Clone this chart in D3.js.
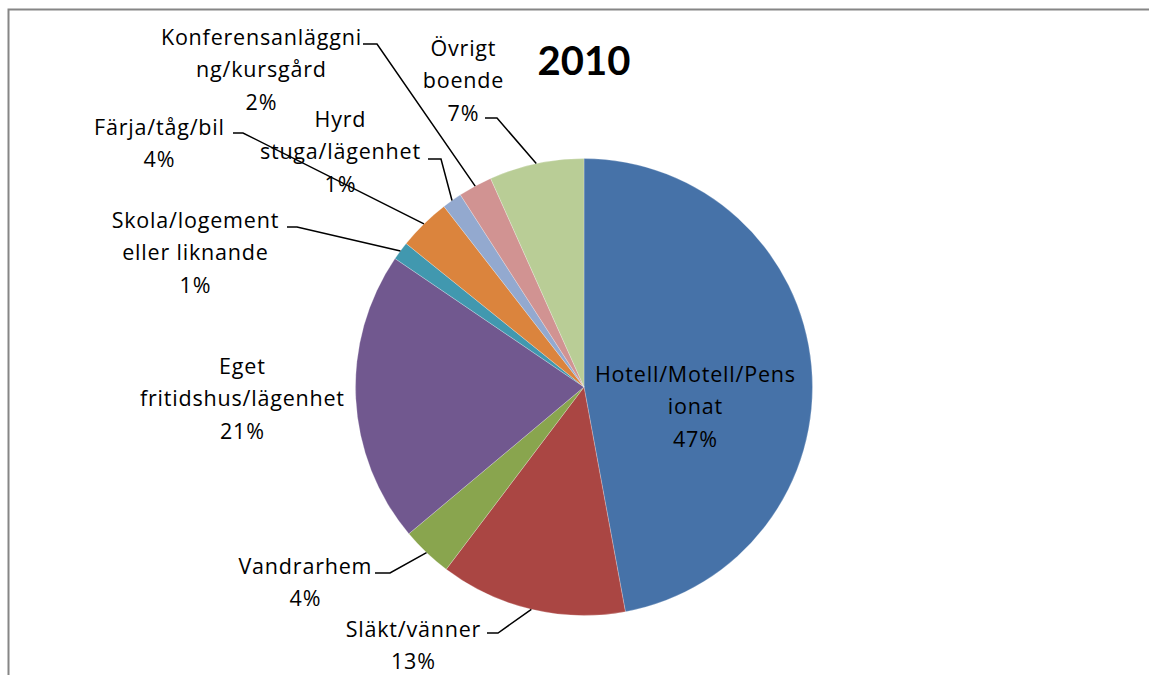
<!DOCTYPE html>
<html>
<head>
<meta charset="utf-8">
<script src="https://cdn.jsdelivr.net/npm/d3@7"></script>
<style>
  body { margin: 0; background: #fff; }
  text { font-family: "Open Sans", Lato, sans-serif; fill: #000; }
</style>
</head>
<body>
<svg id="chart" width="1149" height="675"></svg>
<script>
// data (shares in %)
var categories = ["Hotell/Motell/Pensionat", "Släkt/vänner", "Vandrarhem", "Eget fritidshus/lägenhet",
                  "Skola/logement eller liknande", "Färja/tåg/bil", "Hyrd stuga/lägenhet",
                  "Konferensanläggning/kursgård", "Övrigt boende"];
var values = [47.1, 13.2, 3.6, 20.6, 1.3, 3.7, 1.4, 2.4, 6.7];
var labelLines = [["Hotell/Motell/Pens", "ionat"], ["Släkt/vänner"], ["Vandrarhem"], ["Eget", "fritidshus/lägenhet"],
                  ["Skola/logement", "eller liknande"], ["Färja/tåg/bil"], ["Hyrd", "stuga/lägenhet"],
                  ["Konferensanläggni", "ng/kursgård"], ["Övrigt", "boende"]];
var colors = ["#4672A8", "#AA4643", "#89A54E", "#71588F", "#4198AF", "#DB843D", "#93A9CF", "#D19392", "#B9CD96"];
var title = "2010";

// label layout: text centre x, first baseline y, leader elbow (null = inside slice)
var layout = [
  { x: 695, y: 382, leader: null },
  { x: 413, y: 637, leader: [[487, 633], [498, 633]] },
  { x: 305, y: 574, leader: [[375, 573], [390, 573]] },
  { x: 242, y: 374, leader: null },
  { x: 195, y: 228, leader: [[287, 227], [297, 227]] },
  { x: 159, y: 135, leader: [[233, 133], [243, 133]] },
  { x: 340, y: 127, leader: [[428, 159], [441, 159]] },
  { x: 261, y: 45, leader: [[363, 44], [377, 44]] },
  { x: 463, y: 56, leader: [[485, 118], [497, 118]] }
];

var svg = d3.select("#chart"),
    cx = 584, cy = 387, R = 228.5, lineH = 32.3;

// outer frame (runs off the right and bottom edges)
svg.append("rect")
   .attr("x", 8.5).attr("y", 9.5)
   .attr("width", 1400).attr("height", 900)
   .attr("fill", "none")
   .attr("stroke", "#868686")
   .attr("stroke-width", 2);

var pie = d3.pie().sort(null).value(function(d) { return d; });
var arcs = pie(values);
var arc = d3.arc().innerRadius(0).outerRadius(R);
var rim = d3.arc().innerRadius(R).outerRadius(R);

var g = svg.append("g").attr("transform", "translate(" + cx + "," + cy + ")");

g.selectAll(".slice")
 .data(arcs)
 .enter().append("path")
 .attr("class", "slice")
 .attr("d", arc)
 .attr("fill", function(d, i) { return colors[i]; })
 .attr("stroke", "#fff")
 .attr("stroke-width", 0.4)
 .attr("stroke-opacity", 0.6);

// leader lines
arcs.forEach(function(d, i) {
    var l = layout[i];
    if (!l.leader) return;
    var p = rim.centroid(d);
    var pts = [l.leader[0], l.leader[1], [cx + p[0], cy + p[1]]];
    svg.append("path")
       .attr("d", d3.line()(pts))
       .attr("fill", "none")
       .attr("stroke", "#000")
       .attr("stroke-width", 1.5);
});

// labels
arcs.forEach(function(d, i) {
    var l = layout[i];
    var lines = labelLines[i].concat([Math.round(values[i]) + "%"]);
    var t = svg.append("text")
               .attr("text-anchor", "middle")
               .style("font-size", "21.5px")
               .style("letter-spacing", "0.8px");
    lines.forEach(function(s, k) {
        t.append("tspan")
         .attr("x", l.x + 0.4)
         .attr("y", l.y + k * lineH)
         .text(s);
    });
});

svg.append("text")
   .attr("x", 584).attr("y", 75)
   .attr("text-anchor", "middle")
   .style("font-family", "Lato, sans-serif")
   .style("font-size", "40px")
   .style("font-weight", "bold")
   .text(title);
</script>
</body>
</html>
